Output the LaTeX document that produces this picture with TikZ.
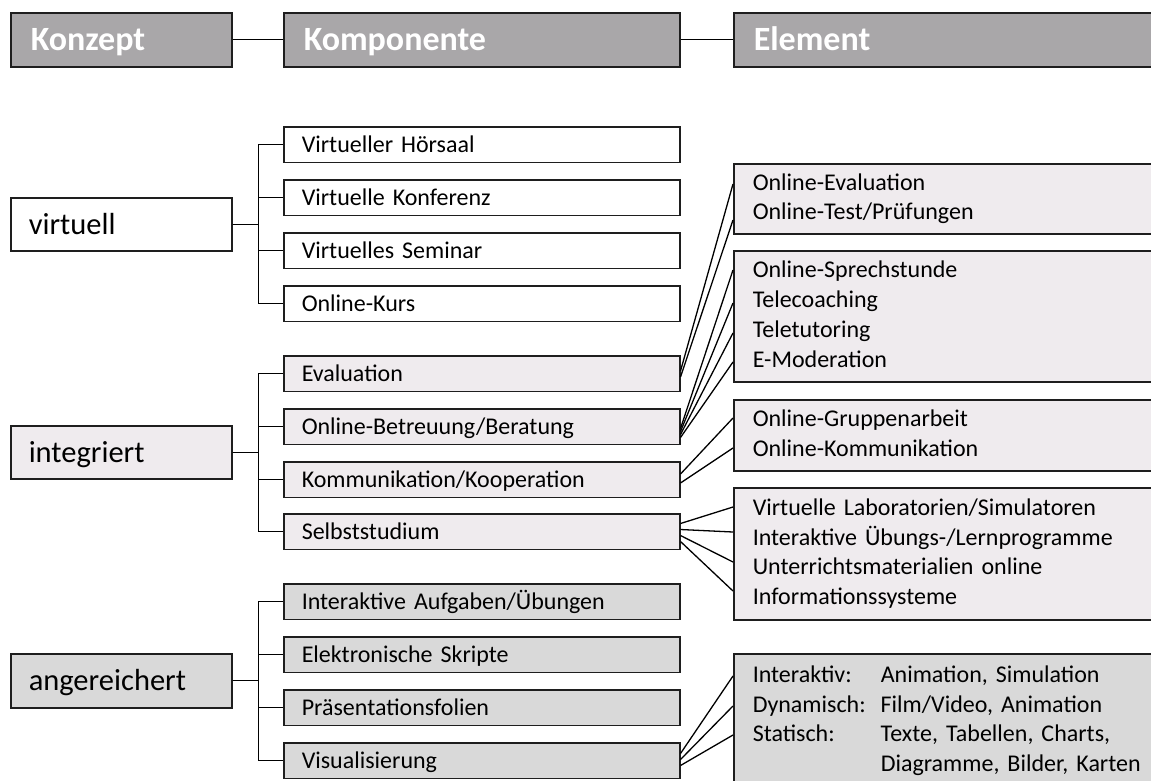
\documentclass[tikz,border=0pt]{standalone}
\usepackage{fontspec}
\setmainfont[WordSpace={0.75,0.5,0.5}]{Carlito}
\usetikzlibrary{calc}
\definecolor{hdrgray}{HTML}{A9A7A9}
\definecolor{lightpink}{HTML}{EFEBEE}
\definecolor{midgray}{HTML}{D9D9D9}
\definecolor{edgecol}{HTML}{1E1E1E}
\begin{document}
\begin{tikzpicture}[x=1pt,y=-1pt,
  box/.style={draw=edgecol, line width=1.5pt, rectangle, anchor=north west, inner ysep=0pt},
  hdr/.style={box, fill=hdrgray, text=white, font=\bfseries\fontsize{34}{36}\selectfont,
    minimum height=54pt, inner xsep=20pt, text height=21.9pt, text depth=0pt, align=left},
  kbox/.style={box, font=\fontsize{30.5}{32}\selectfont, minimum height=53pt, inner xsep=18pt,
    text width=185pt, text height=19.6pt, text depth=0pt, align=left},
  cbox/.style={box, font=\fontsize{24}{26}\selectfont, minimum height=35.5pt, inner xsep=18pt,
    text width=360pt, text height=15.5pt, text depth=0pt, align=left},
  ebox/.style={box, font=\fontsize{24}{29.8}\selectfont, inner xsep=19pt,
    text width=412pt, align=left},
  conn/.style={draw=black, line width=1.3pt},
  whitefill/.style={fill=white},
  pinkfill/.style={fill=lightpink},
  grayfill/.style={fill=midgray}
]
\useasboundingbox (0,0) rectangle (1151,780);

% headers
\node[hdr, text width=181pt] (h1) at (10,12) {Konzept};
\node[hdr, text width=356pt] (h2) at (283,12) {Komponente};
\node[hdr, text width=410pt] (h3) at (733,12) {Element};
\draw[conn] (h1.east) -- (h2.west);
\draw[conn] (h2.east) -- (h3.west);

% Konzept boxes
\node[kbox, whitefill] (kv) at (10,197) {virtuell};
\node[kbox, pinkfill] (ki) at (10,425) {integriert};
\node[kbox, grayfill, minimum height=54pt] (ka) at (10,653) {angereichert};

% Komponenten
\node[cbox, whitefill] (v1) at (283,126) {Virtueller Hörsaal};
\node[cbox, whitefill] (v2) at (283,179) {Virtuelle Konferenz};
\node[cbox, whitefill] (v3) at (283,232) {Virtuelles Seminar};
\node[cbox, whitefill] (v4) at (283,285) {Online-Kurs};

\node[cbox, pinkfill] (ev) at (283,355) {Evaluation};
\node[cbox, pinkfill] (ob) at (283,408) {Online-Betreuung/Beratung};
\node[cbox, pinkfill] (ko) at (283,461) {Kommunikation/Kooperation};
\node[cbox, pinkfill] (ss) at (283,513) {Selbststudium};

\node[cbox, grayfill] (a1) at (283,583) {Interaktive Aufgaben/Übungen};
\node[cbox, grayfill] (a2) at (283,636) {Elektronische Skripte};
\node[cbox, grayfill] (a3) at (283,689) {Präsentationsfolien};
\node[cbox, grayfill] (vi) at (283,742) {Visualisierung};

% brackets
\foreach \c in {v1,v2,v3,v4} \draw[conn] (kv.east) -- ++(26,0) |- (\c.west);
\foreach \c in {ev,ob,ko,ss} \draw[conn] (ki.east) -- ++(26,0) |- (\c.west);
\foreach \c in {a1,a2,a3,vi} \draw[conn] (ka.east) -- ++(26,0) |- (\c.west);

% Element boxes
\node[ebox, pinkfill, minimum height=70pt] (e1) at (733,163)
  {\vphantom{l}Online-Evaluation\\Online-Test/Prüfungen\vphantom{g}};
\node[ebox, pinkfill, minimum height=131pt] (e2) at (733,250)
  {\vphantom{l}Online-Sprechstunde\\Telecoaching\\Teletutoring\\E-Moderation\vphantom{g}};
\node[ebox, pinkfill, minimum height=71pt] (e3) at (733,399)
  {\vphantom{l}Online-Gruppenarbeit\\Online-Kommunikation\vphantom{g}};
\node[ebox, pinkfill, minimum height=132pt] (e4) at (733,487)
  {\vphantom{l}Virtuelle Laboratorien/Simulatoren\\Interaktive Übungs-/Lernprogramme\\Unterrichtsmaterialien online\\Informationssysteme\vphantom{g}};
\node[ebox, grayfill, minimum height=134pt] (e5) at (733,653)
  {\vphantom{l}\makebox[128pt][l]{Interaktiv:}Animation, Simulation\\
   \makebox[128pt][l]{Dynamisch:}Film/Video, Animation\\
   \makebox[128pt][l]{Statisch:}Texte, Tabellen, Charts,\\
   \makebox[128pt][l]{}Diagramme, Bilder, Karten\vphantom{g}};

% fan-out connectors
\draw[conn] ($(ev.east)+(0,-2.5)$) -- ($(e1.north west)+(0,21)$);
\draw[conn] ($(ev.east)+(0,3.5)$) -- ($(e1.north west)+(0,57)$);

\draw[conn] ($(ob.east)+(0,2)$) -- ($(e2.north west)+(0,20)$);
\draw[conn] ($(ob.east)+(0,5)$) -- ($(e2.north west)+(0,53)$);
\draw[conn] ($(ob.east)+(0,8)$) -- ($(e2.north west)+(0,83)$);
\draw[conn] ($(ob.east)+(0,11)$) -- ($(e2.north west)+(0,112)$);

\draw[conn] ($(ko.east)+(0,-5.5)$) -- ($(e3.north west)+(0,19)$);
\draw[conn] ($(ko.east)+(0,3.5)$) -- ($(e3.north west)+(0,49)$);

\draw[conn] ($(ss.east)+(0,-8)$) -- ($(e4.north west)+(0,20)$);
\draw[conn] ($(ss.east)+(0,-2)$) -- ($(e4.north west)+(0,45)$);
\draw[conn] ($(ss.east)+(0,4)$) -- ($(e4.north west)+(0,75)$);
\draw[conn] ($(ss.east)+(0,10)$) -- ($(e4.north west)+(0,104)$);

\draw[conn] ($(vi.east)+(0,-7)$) -- ($(e5.north west)+(0,23)$);
\draw[conn] ($(vi.east)+(0,-1)$) -- ($(e5.north west)+(0,53)$);
\draw[conn] ($(vi.east)+(0,5)$) -- ($(e5.north west)+(0,82)$);
\end{tikzpicture}
\end{document}
